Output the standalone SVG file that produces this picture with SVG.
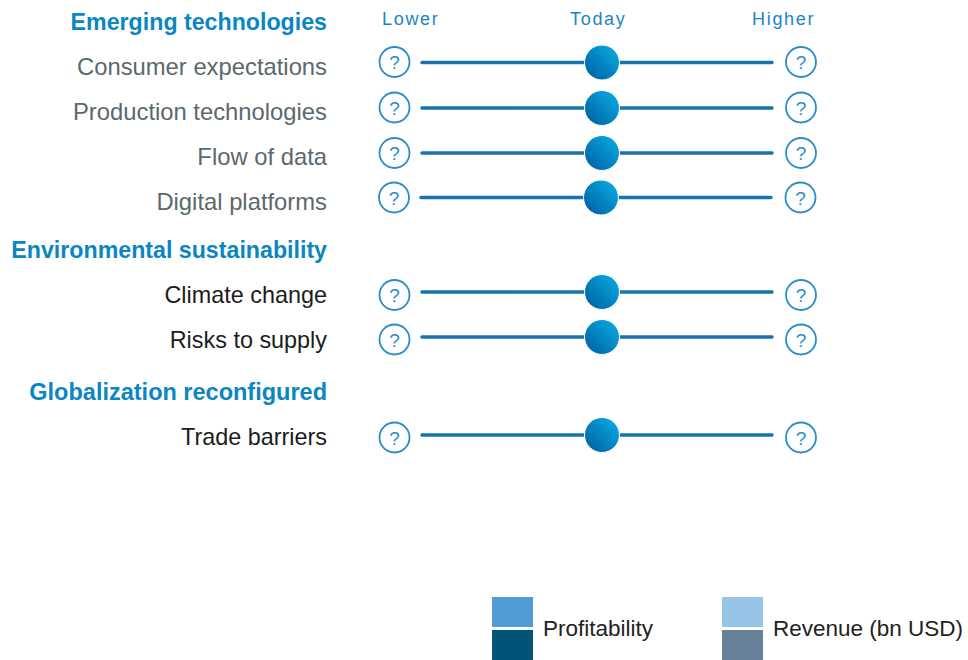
<svg xmlns="http://www.w3.org/2000/svg" width="968" height="660" viewBox="0 0 968 660">
<defs>
<linearGradient id="knob" x1="0.15" y1="0.85" x2="0.85" y2="0.15">
<stop offset="0" stop-color="#0068a8"/>
<stop offset="1" stop-color="#08a4de"/>
</linearGradient>
<style>
.head{font-family:"Liberation Sans",Arial,sans-serif;font-weight:bold;font-size:23.2px;fill:#0a86c2;text-anchor:end}
.lab{font-family:"Liberation Sans",Arial,sans-serif;font-size:23.8px;text-anchor:end}
.gray{fill:#5b686d}
.dark{fill:#1c1c1c;font-size:23.4px}
.scale{font-family:"Liberation Sans",Arial,sans-serif;font-size:18px;fill:#1a86c4;letter-spacing:1.7px}
.track{stroke:#1772ad;stroke-width:3.4;stroke-linecap:round}
.q{fill:#fff;stroke:#2b8cca;stroke-width:1.8}
.qt{font-family:"Liberation Sans",Arial,sans-serif;font-size:19px;fill:#2b8cca;text-anchor:middle}
.leg{font-family:"Liberation Sans",Arial,sans-serif;font-size:22.5px;fill:#222}
</style>
</defs>
<rect width="968" height="660" fill="#fff"/>
<g id="scale-labels">
<text class="scale" x="382" y="25">Lower</text>
<text class="scale" x="570" y="25">Today</text>
<text class="scale" x="752" y="25">Higher</text>
</g>
<g id="group-emerging">
<text class="head" x="327" y="30">Emerging technologies</text>
</g>
<g id="row-consumer">
<text class="lab gray" x="327" y="75">Consumer expectations</text>
<circle class="q" cx="394.5" cy="62" r="15"/><text class="qt" x="394.5" y="69">?</text>
<circle class="q" cx="801" cy="62" r="15"/><text class="qt" x="801" y="69">?</text>
</g>
<g id="row-production">
<text class="lab gray" x="327" y="120">Production technologies</text>
<circle class="q" cx="394.5" cy="107.5" r="15"/><text class="qt" x="394.5" y="114.5">?</text>
<circle class="q" cx="801" cy="107.5" r="15"/><text class="qt" x="801" y="114.5">?</text>
</g>
<g id="row-flow">
<text class="lab gray" x="327" y="165">Flow of data</text>
<circle class="q" cx="394.5" cy="153" r="15"/><text class="qt" x="394.5" y="160">?</text>
<circle class="q" cx="801" cy="153" r="15"/><text class="qt" x="801" y="160">?</text>
</g>
<g id="row-digital">
<text class="lab gray" x="327" y="210">Digital platforms</text>
<circle class="q" cx="394" cy="197.5" r="15"/><text class="qt" x="394" y="204.5">?</text>
<circle class="q" cx="800.5" cy="197.5" r="15"/><text class="qt" x="800.5" y="204.5">?</text>
</g>
<g id="group-environmental">
<text class="head" x="327" y="258">Environmental sustainability</text>
</g>
<g id="row-climate">
<text class="lab dark" x="327" y="303">Climate change</text>
<circle class="q" cx="394.5" cy="295" r="15"/><text class="qt" x="394.5" y="302">?</text>
<circle class="q" cx="801" cy="295" r="15"/><text class="qt" x="801" y="302">?</text>
</g>
<g id="row-risks">
<text class="lab dark" x="327" y="348">Risks to supply</text>
<circle class="q" cx="394.5" cy="339.5" r="15"/><text class="qt" x="394.5" y="346.5">?</text>
<circle class="q" cx="801" cy="339.5" r="15"/><text class="qt" x="801" y="346.5">?</text>
</g>
<g id="group-globalization">
<text class="head" x="327" y="400" style="font-size:23.5px">Globalization reconfigured</text>
</g>
<g id="row-trade">
<text class="lab dark" x="327" y="445">Trade barriers</text>
<circle class="q" cx="394.5" cy="437.5" r="15"/><text class="qt" x="394.5" y="444.5">?</text>
<circle class="q" cx="801" cy="437.5" r="15"/><text class="qt" x="801" y="444.5">?</text>
</g>
<g id="connectors">
<line class="track" x1="422" y1="62.5" x2="772" y2="62.5"/>
<line class="track" x1="422" y1="108" x2="772" y2="108"/>
<line class="track" x1="422" y1="153" x2="772" y2="153"/>
<line class="track" x1="421" y1="197.5" x2="771" y2="197.5"/>
<line class="track" x1="422" y1="292" x2="772" y2="292"/>
<line class="track" x1="422" y1="337" x2="772" y2="337"/>
<line class="track" x1="422" y1="435" x2="772" y2="435"/>
</g>
<g id="knobs">
<circle cx="602" cy="62.5" r="17.5" fill="url(#knob)" stroke="#fff" stroke-width="1"/>
<circle cx="602" cy="108" r="17.5" fill="url(#knob)" stroke="#fff" stroke-width="1"/>
<circle cx="602" cy="153" r="17.5" fill="url(#knob)" stroke="#fff" stroke-width="1"/>
<circle cx="601" cy="197.5" r="17.5" fill="url(#knob)" stroke="#fff" stroke-width="1"/>
<circle cx="602" cy="292" r="17.5" fill="url(#knob)" stroke="#fff" stroke-width="1"/>
<circle cx="602" cy="337" r="17.5" fill="url(#knob)" stroke="#fff" stroke-width="1"/>
<circle cx="602" cy="435" r="17.5" fill="url(#knob)" stroke="#fff" stroke-width="1"/>
</g>
<g id="legend-profitability">
<rect x="492" y="597" width="41" height="30" fill="#4f9bd3"/>
<rect x="492" y="630" width="41" height="30" fill="#015378"/>
<text class="leg" x="543" y="636">Profitability</text>
</g>
<g id="legend-revenue">
<rect x="722" y="597" width="41" height="30" fill="#96c4e7"/>
<rect x="722" y="630" width="41" height="30" fill="#68819b"/>
<text class="leg" x="773" y="636">Revenue (bn USD)</text>
</g>
</svg>
